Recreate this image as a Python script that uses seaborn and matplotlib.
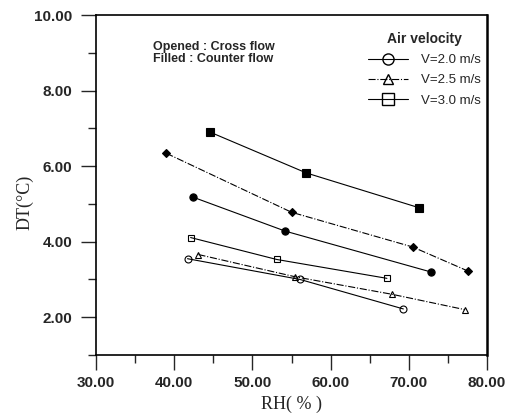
import matplotlib
matplotlib.use("Agg")
import matplotlib.pyplot as plt
from matplotlib.lines import Line2D
from matplotlib.ticker import MultipleLocator, FormatStrFormatter
import seaborn as sns
import pandas as pd

sns.set_style("white")
plt.rcParams['font.family'] = ['Liberation Sans', 'DejaVu Sans']

# Cross flow (open markers)
rh_cross_20 = [41.7, 56.1, 69.3]
dt_cross_20 = [3.55, 3.00, 2.22]
rh_cross_25 = [43.1, 55.5, 67.8, 77.2]
dt_cross_25 = [3.66, 3.07, 2.61, 2.20]
rh_cross_30 = [42.1, 53.1, 67.2]
dt_cross_30 = [4.11, 3.53, 3.03]
# Counter flow (filled markers)
rh_counter_20 = [42.4, 54.2, 72.8]
dt_counter_20 = [5.18, 4.28, 3.20]
rh_counter_25 = [39.0, 55.0, 70.5, 77.6]
dt_counter_25 = [6.34, 4.78, 3.86, 3.22]
rh_counter_30 = [44.6, 56.9, 71.3]
dt_counter_30 = [6.90, 5.82, 4.90]

legend_labels = ["V=2.0 m/s", "V=2.5 m/s", "V=3.0 m/s"]
x_ticks = [30, 40, 50, 60, 70, 80]
y_ticks = [2, 4, 6, 8, 10]

fig = plt.figure(figsize=(5.17, 4.19), dpi=100)
ax = fig.add_axes([0.1857, 0.1527, 0.7563, 0.8113])

series = [
    (rh_cross_20, dt_cross_20, 'o', '-', 'none', 5),
    (rh_cross_25, dt_cross_25, '^', '-.', 'none', 4.5),
    (rh_cross_30, dt_cross_30, 's', '-', 'none', 5),
    (rh_counter_20, dt_counter_20, 'o', '-', 'black', 5.2),
    (rh_counter_25, dt_counter_25, 'D', '-.', 'black', 4),
    (rh_counter_30, dt_counter_30, 's', '-', 'black', 5.5),
]
for xs, ys, mk, ls, fc, ms in series:
    df = pd.DataFrame({"RH": xs, "DT": ys})
    sns.lineplot(data=df, x="RH", y="DT", ax=ax, color='black', linewidth=0.8,
                 linestyle=ls, marker=mk, markersize=ms, markerfacecolor=fc,
                 markeredgecolor='black', markeredgewidth=0.8, sort=False)

ax.set_xlim(30, 80)
ax.set_ylim(1, 10)
ax.set_xticks(x_ticks)
ax.set_yticks(y_ticks)
ax.xaxis.set_minor_locator(MultipleLocator(5))
ax.yaxis.set_minor_locator(MultipleLocator(1))
ax.xaxis.set_major_formatter(FormatStrFormatter('%.2f'))
ax.yaxis.set_major_formatter(FormatStrFormatter('%.2f'))
ax.tick_params(axis='both', which='major', direction='out', length=11, width=1,
               labelsize=11, bottom=True, left=True, pad=4)
ax.tick_params(axis='y', which='major', pad=6)
ax.tick_params(axis='both', which='minor', direction='out', length=6, width=1,
               bottom=True, left=True)
for lbl in ax.get_xticklabels() + ax.get_yticklabels():
    lbl.set_fontweight('bold')
for sp in ax.spines.values():
    sp.set_color('black')
    sp.set_linewidth(1.2)
ax.spines['right'].set_linewidth(1.8)

ax.set_xlabel("RH( % )", family=['Liberation Serif', 'DejaVu Serif'], fontsize=13)
ax.xaxis.set_label_coords(0.5, -0.12)
ax.set_ylabel("DT(\u00b0C)", family=['Liberation Serif', 'DejaVu Serif'], fontsize=13)
ax.yaxis.set_label_coords(-0.16, 0.45)

ax.text(0.145, 0.925, "Opened : Cross flow\nFilled : Counter flow", transform=ax.transAxes,
        fontsize=9, fontweight='bold', va='top', ha='left', linespacing=1.05)

handles = [
    Line2D([], [], color='black', lw=0.8, ls='-', marker='o', markersize=8,
           markerfacecolor='none', markeredgecolor='black'),
    Line2D([], [], color='black', lw=0.8, ls='-.', marker='^', markersize=7,
           markerfacecolor='none', markeredgecolor='black'),
    Line2D([], [], color='black', lw=0.8, ls='-', marker='s', markersize=8,
           markerfacecolor='none', markeredgecolor='black'),
]
leg = ax.legend(handles, legend_labels, title="Air velocity", loc='upper right',
                bbox_to_anchor=(1.015, 0.985), frameon=False, fontsize=9.5,
                title_fontsize=10, handlelength=3.0, labelspacing=0.6,
                handletextpad=1.0)
leg.get_title().set_fontweight('bold')

fig.savefig("out.png", dpi=100)
